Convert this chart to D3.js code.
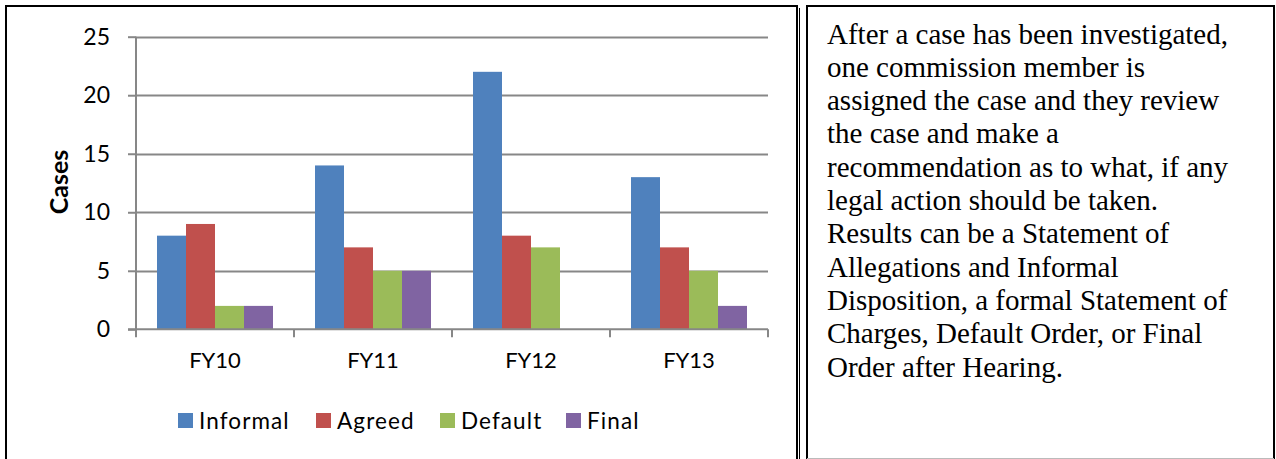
<!DOCTYPE html>
<html>
<head>
<meta charset="utf-8">
<script src="https://cdn.jsdelivr.net/npm/d3@7"></script>
<style>
  html, body { margin: 0; padding: 0; background: #fff; }
  svg { display: block; }
</style>
</head>
<body>
<svg id="chart" width="1276" height="459"></svg>
<script>
// Fiscal years and case counts by disposition type
const categories = ["FY10", "FY11", "FY12", "FY13"];
const seriesNames = ["Informal", "Agreed", "Default", "Final"];
const informal = [8, 14, 22, 13];
const agreed = [9, 7, 8, 7];
const defaultOrders = [2, 5, 7, 5];
const finalOrders = [2, 5, 0, 2];
const yTicks = [0, 5, 10, 15, 20, 25];
const seriesColors = ["#4F81BD", "#C0504D", "#9BBB59", "#8064A2"];

const noteLines = [
  "After a case has been investigated,",
  "one commission member is",
  "assigned the case and they review",
  "the case and make a",
  "recommendation as to what, if any",
  "legal action should be taken.",
  "Results can be a Statement of",
  "Allegations and Informal",
  "Disposition, a formal Statement of",
  "Charges, Default Order, or Final",
  "Order after Hearing."
];

const seriesValues = [informal, agreed, defaultOrders, finalOrders];
const svg = d3.select("#chart");
const sans = "Lato, 'Open Sans', sans-serif";

// Table cell borders
const border = svg.append("g").attr("fill", "none");
border.append("path").attr("d", "M6,459 V6 H797 V459")
  .attr("stroke", "#000").attr("stroke-width", 2);
border.append("line").attr("x1", 799.5).attr("x2", 799.5).attr("y1", 8).attr("y2", 459)
  .attr("stroke", "#000").attr("stroke-width", 1);
border.append("path").attr("d", "M807,459 V6 H1274 V459")
  .attr("stroke", "#000").attr("stroke-width", 2);
border.append("line").attr("x1", 807).attr("x2", 1274).attr("y1", 458.5).attr("y2", 458.5)
  .attr("stroke", "#bbb").attr("stroke-width", 1);

// Plot area
const plot = { left: 136, right: 768, top: 36.7, bottom: 329.3 };
const x0 = d3.scaleBand().domain(categories).range([plot.left, plot.right]).paddingInner(0).paddingOuter(0);
const inner = 116 / 158;
const x1 = d3.scaleBand().domain(seriesNames)
  .range([0, x0.bandwidth() * inner]);
const groupOffset = x0.bandwidth() * (1 - inner) / 2;
const y = d3.scaleLinear().domain([0, 25]).range([plot.bottom, plot.top]);

const gridColor = "#878787";

// Horizontal gridlines
svg.append("g").selectAll("line").data(yTicks.filter(t => t > 0)).join("line")
  .attr("x1", plot.left).attr("x2", plot.right)
  .attr("y1", d => Math.round(y(d)) + 0.5).attr("y2", d => Math.round(y(d)) + 0.5)
  .attr("stroke", gridColor).attr("stroke-width", 2);

// Bars
const groups = svg.append("g").selectAll("g").data(categories).join("g")
  .attr("transform", d => `translate(${x0(d) + groupOffset},0)`);
groups.selectAll("rect")
  .data((c, i) => seriesNames.map((s, j) => ({ s, j, v: seriesValues[j][i] })))
  .join("rect")
  .attr("x", d => x1(d.s))
  .attr("width", x1.bandwidth())
  .attr("y", d => y(d.v))
  .attr("height", d => y(0) - y(d.v))
  .attr("fill", d => seriesColors[d.j]);

// Y axis
const yAxis = d3.axisLeft(y).tickValues(yTicks).tickSize(8).tickPadding(18).tickFormat(d3.format("d"));
const gy = svg.append("g").attr("transform", `translate(${plot.left},0)`).call(yAxis);
gy.select(".domain").attr("stroke", gridColor).attr("stroke-width", 2)
  .attr("d", `M0,${plot.top}V${plot.bottom}`);
gy.selectAll(".tick line").attr("stroke", gridColor).attr("stroke-width", 2);
gy.selectAll(".tick text").attr("font-family", sans).attr("font-size", 23)
  .attr("fill", "#000");

// X axis
const xAxis = d3.axisBottom(x0).tickSize(0).tickPadding(23);
const gx = svg.append("g").attr("transform", `translate(0,${plot.bottom})`).call(xAxis);
gx.select(".domain").attr("stroke", gridColor).attr("stroke-width", 2)
  .attr("d", `M${plot.left - 8},0H${plot.right}`);
gx.selectAll(".tick text").attr("font-family", sans).attr("font-size", 22)
  .attr("fill", "#000");
// Category divider ticks
svg.append("g").selectAll("line")
  .data(categories.map(c => x0(c)).concat([plot.right]))
  .join("line")
  .attr("x1", d => d).attr("x2", d => d)
  .attr("y1", plot.bottom).attr("y2", plot.bottom + 8)
  .attr("stroke", gridColor).attr("stroke-width", 2);

// Y axis title
svg.append("text")
  .attr("transform", `translate(68,182) rotate(-90)`)
  .attr("text-anchor", "middle")
  .attr("font-family", sans).attr("font-weight", "bold").attr("font-size", 25)
  .text("Cases");

// Legend
const legendX = [178, 316, 440, 566];
const legend = svg.append("g").selectAll("g").data(seriesNames).join("g")
  .attr("transform", (d, i) => `translate(${legendX[i]},413)`);
legend.append("rect").attr("width", 15).attr("height", 15)
  .attr("fill", (d, i) => seriesColors[i]);
legend.append("text").attr("x", 21).attr("y", 15.5)
  .attr("font-family", sans).attr("font-size", 22.5)
  .attr("letter-spacing", 1.1)
  .text(d => d);

// Note text in the right cell
svg.append("g").selectAll("text").data(noteLines).join("text")
  .attr("x", 827)
  .attr("y", (d, i) => 43.5 + i * 33.3)
  .attr("font-family", "'Liberation Serif', 'Times New Roman', serif")
  .attr("font-size", 29)
  .attr("fill", "#000")
  .text(d => d);
</script>
</body>
</html>
